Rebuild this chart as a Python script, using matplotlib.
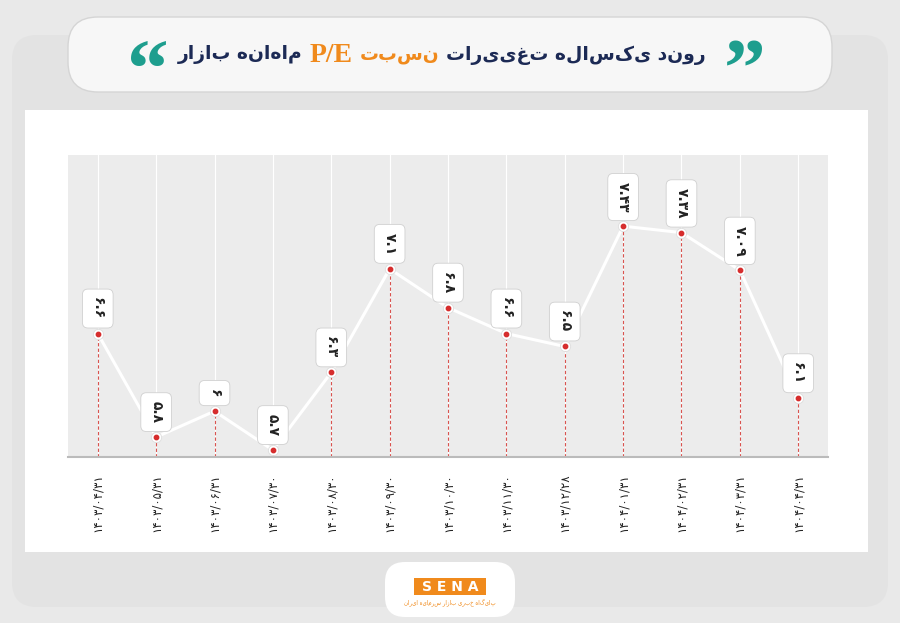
import matplotlib.pyplot as plt
from matplotlib.patches import FancyBboxPatch

# --- Data ---
dates = ['۱۴۰۳/۰۴/۳۱', '۱۴۰۳/۰۵/۳۱', '۱۴۰۳/۰۶/۳۱', '۱۴۰۳/۰۷/۳۰', '۱۴۰۳/۰۸/۳۰',
         '۱۴۰۳/۰۹/۳۰', '۱۴۰۳/۱۰/۳۰', '۱۴۰۳/۱۱/۳۰', '۱۴۰۳/۱۲/۲۸', '۱۴۰۴/۰۱/۳۱',
         '۱۴۰۴/۰۲/۳۱', '۱۴۰۴/۰۳/۳۱', '۱۴۰۴/۰۴/۳۱']
pe = [6.6, 5.8, 6.0, 5.7, 6.3, 7.1, 6.8, 6.6, 6.5, 7.43, 7.38, 7.09, 6.1]
pe_labels = ['۶.۶', '۵.۸', '۶', '۵.۷', '۶.۳', '۷.۱', '۶.۸', '۶.۶', '۶.۵', '۷.۴۳', '۷.۳۸', '۷.۰۹', '۶.۱']

W, H = 900, 623
fig = plt.figure(figsize=(9, 6.23), dpi=100)
fig.patch.set_facecolor('#e9e9e9')

# background panels in pixel coords
bg = fig.add_axes([0, 0, 1, 1])
bg.set_xlim(0, W); bg.set_ylim(H, 0); bg.axis('off')
bg.add_patch(FancyBboxPatch((12, 35), 876, 572, boxstyle='round,pad=0,rounding_size=25',
                            fc='#e3e3e3', ec='none'))
bg.add_patch(FancyBboxPatch((25, 110), 843, 442, boxstyle='square,pad=0', fc='white', ec='none'))
bg.add_patch(FancyBboxPatch((68, 17), 764, 75, boxstyle='round,pad=0,rounding_size=30',
                            fc='#f7f7f7', ec='#d5d5d5', lw=1))
bg.add_patch(FancyBboxPatch((385, 562), 130, 55, boxstyle='round,pad=0,rounding_size=20',
                            fc='white', ec='none'))

# title, laid out right to left (characters reversed for display)
fp = 'DejaVu Sans'
parts = [('روند یکساله تغییرات'[::-1], '#1c2a55', fp, 13.5),
         ('نسبت'[::-1], '#f08a1c', fp, 13.5),
         ('P/E', '#f08a1c', 'Liberation Serif', 20),
         ('ماهانه بازار'[::-1], '#1c2a55', fp, 13.5)]
renderer = fig.canvas.get_renderer()
right = 706
for s, c, fam, size in parts:
    t = bg.text(right, 55, s, ha='right', va='center', fontsize=size, fontweight='bold',
                color=c, family=fam)
    ext = t.get_window_extent(renderer)
    right -= ext.width + 7
bg.text(745, 76, '\u201d', ha='center', va='center', fontsize=60, fontweight='bold', color='#1e9e8e', family='Liberation Serif')
bg.text(148, 76, '\u201c', ha='center', va='center', fontsize=60, fontweight='bold', color='#1e9e8e', family='Liberation Serif')

# logo
bg.add_patch(FancyBboxPatch((414, 578), 72, 17, boxstyle='square,pad=0', fc='#f08a1c', ec='none'))
bg.text(450, 587, 'S E N A', ha='center', va='center', fontsize=10, fontweight='bold', color='white')
bg.text(450, 602, 'پایگاه خبری بازار سرمایه ایران'[::-1], ha='center', va='center', fontsize=4, color='#f08a1c')

# --- chart ---
ax = fig.add_axes([68 / W, 1 - 457 / H, 760 / W, 302 / H])
ax.set_facecolor('#ececec')
x = list(range(len(pe)))
ax.set_xlim(-0.51, len(pe) - 0.49)
ax.set_ylim(5.646, 7.98)
for xi in x:
    ax.axvline(xi, color='white', lw=0.8, zorder=0)
ax.vlines(x, 5.646, pe, colors='#d9534f', linestyles=(0, (3, 2)), lw=0.8, zorder=1)
ax.plot(x, pe, color='white', lw=2.2, zorder=2)
ax.scatter(x, pe, s=55, color='white', edgecolors='#dddddd', linewidths=0.6, zorder=3)
ax.scatter(x, pe, s=10, color='#d62d2d', zorder=4)
for xi, v, lab in zip(x, pe, pe_labels):
    ax.annotate(lab, (xi, v), xytext=(0, 10), textcoords='offset points', ha='center', va='bottom',
                rotation=-90, fontsize=10, fontweight='bold', color='#222222', family=fp,
                bbox=dict(boxstyle='round,pad=0.6,rounding_size=0.4', fc='white', ec='#d0d0d0', lw=0.6),
                zorder=5)
ax.set_yticks([])
ax.set_xticks(x)
ax.set_xticklabels(dates, rotation=90, fontsize=8.5, family=fp, color='#222222')
ax.tick_params(axis='x', length=0, pad=12)
for s in ['top', 'left', 'right']:
    ax.spines[s].set_visible(False)
ax.spines['bottom'].set_color('#bbbbbb')
ax.spines['bottom'].set_linewidth(1.5)

fig.savefig('out.png', dpi=100)
